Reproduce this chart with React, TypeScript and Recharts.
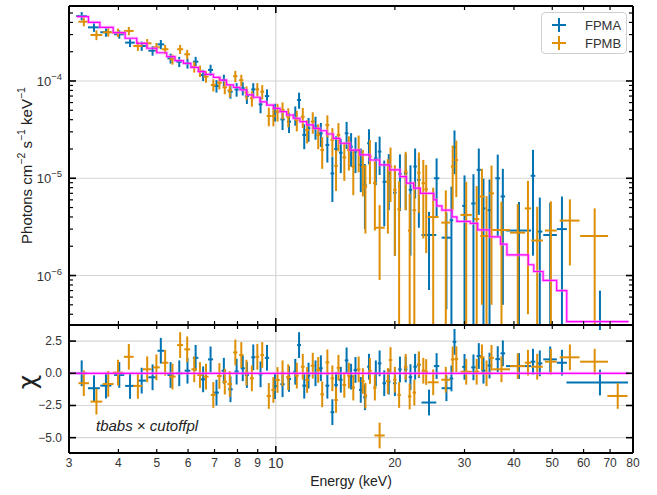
import React from "react";
import {
  CartesianGrid,
  ComposedChart,
  ErrorBar,
  Legend,
  Line,
  Scatter,
  XAxis,
  YAxis,
} from "recharts";

// FPMA (blue): bin centre, half width (keV), flux, 1-sigma, chi
const fpmaE = [3.23, 3.47, 3.72, 4.02, 4.28, 4.58, 4.88, 5.12, 5.42, 5.7,
  5.98, 6.27, 6.55, 6.84, 7.08, 7.39, 7.68, 7.96, 8.25, 8.45,
  8.77, 9.15, 9.5, 9.95, 10.4, 10.8, 11.2, 11.45, 11.8, 12.1,
  12.6, 13.0, 13.5, 13.9, 14.2, 14.6, 15.1, 15.5, 15.9, 16.4,
  16.8, 17.2, 17.9, 18.3, 18.8, 19.3, 20.0, 20.6, 21.3, 21.9,
  22.5, 23.0, 24.4, 25.5, 27.0, 27.8, 28.3, 30.0, 31.6, 32.6,
  33.5, 34.7, 36.4, 37.5, 41.2, 44.7, 46.5, 49.4, 52.9, 66];
const fpmaDE = [0.1, 0.12, 0.12, 0.12, 0.12, 0.12, 0.12, 0.1, 0.1, 0.1,
  0.1, 0.1, 0.1, 0.1, 0.1, 0.1, 0.1, 0.1, 0.1, 0.1,
  0.1, 0.1, 0.12, 0.12, 0.13, 0.13, 0.13, 0.13, 0.13, 0.13,
  0.14, 0.14, 0.15, 0.15, 0.15, 0.15, 0.16, 0.16, 0.17, 0.17,
  0.17, 0.18, 0.18, 0.19, 0.19, 0.2, 0.2, 0.21, 0.22, 0.22,
  0.23, 0.23, 1.05, 0.4, 0.75, 0.3, 0.3, 0.4, 0.4, 0.4,
  0.4, 0.4, 0.5, 0.5, 3.0, 0.6, 0.7, 1.95, 1.55, 11.7];
const fpmaFlux = [4.66e-4, 3.56e-4, 3.17e-4, 3.02e-4, 2.48e-4, 2.29e-4, 2.05e-4, 2.38e-4, 1.71e-4, 1.58e-4,
  1.52e-4, 1.58e-4, 1.15e-4, 1.3e-4, 8.9e-5, 1.02e-4, 7.77e-5, 8.2e-5, 8.4e-5, 7.0e-5,
  8.2e-5, 5.75e-5, 7.0e-5, 4.83e-5, 4.03e-5, 3.82e-5, 4.47e-5, 6.38e-5, 2.79e-5, 3.27e-5,
  3.39e-5, 2.9e-5, 2.2e-5, 1.12e-5, 2.0e-5, 1.83e-5, 2.9e-5, 2.11e-5, 1.88e-5, 1.37e-5,
  8.5e-6, 2.29e-5, 1.6e-5, 1.88e-5, 9.2e-6, 1.12e-5, 7.1e-6, 1.11e-5, 1.12e-5, 7.6e-6,
  1.32e-5, 9.6e-6, 2.61e-6, 1.0e-5, 2.45e-6, 3.7e-6, 2.1e-5, 5.2e-6, 5.5e-6, 1.22e-5,
  4.9e-6, 4.7e-6, 1.0e-5, 6.5e-6, 2.9e-6, 1.06e-5, 2.83e-6, 2.61e-6, 3.0e-6, 2.0e-7];
const fpmaErr = [4.5e-5, 3.6e-5, 3.2e-5, 3.0e-5, 2.5e-5, 2.5e-5, 2.3e-5, 2.6e-5, 2.0e-5, 1.9e-5,
  1.8e-5, 1.9e-5, 1.5e-5, 1.7e-5, 1.3e-5, 1.4e-5, 1.2e-5, 1.3e-5, 1.3e-5, 1.2e-5,
  1.3e-5, 1.1e-5, 1.2e-5, 1.0e-5, 9.0e-6, 9.0e-6, 1.0e-5, 1.2e-5, 8.0e-6, 9.0e-6,
  9.0e-6, 8.0e-6, 7.5e-6, 5.5e-6, 7.0e-6, 7.0e-6, 9.0e-6, 8.0e-6, 7.5e-6, 6.5e-6,
  5.5e-6, 9.0e-6, 7.5e-6, 8.0e-6, 6.0e-6, 6.5e-6, 5.5e-6, 6.5e-6, 6.5e-6, 6.0e-6,
  7.0e-6, 6.5e-6, 1.9e-6, 6.0e-6, 2.0e-6, 4.5e-6, 1.0e-5, 5.5e-6, 5.5e-6, 8.0e-6,
  5.0e-6, 5.0e-6, 7.5e-6, 6.0e-6, 2.8e-6, 9.0e-6, 3.5e-6, 3.0e-6, 3.5e-6, 5.0e-7];
const fpmaChi = [0.0, -1.16, -0.96, -0.13, -0.98, -0.57, -0.31, 1.75, -0.13, 0.0,
  0.2, 1.2, -0.47, 1.08, -1.5, 0.2, -1.24, 0.13, 0.39, -0.13,
  1.24, -0.08, 1.2, -1.0, -0.85, -0.44, 0.12, 2.19, -0.96, -0.18,
  0.0, 0.39, -0.96, -3.02, -0.9, -0.5, 1.0, -0.26, 0.26, -1.29,
  -1.86, 0.51, 0.0, 0.77, -0.77, -0.65, -0.77, 0.3, 0.3, -0.3,
  0.51, 0.64, -2.27, 0.56, -1.16, -0.4, 2.44, 0.5, 0.46, 1.34,
  0.2, 0.6, 1.1, 1.55, 0.56, 0.9, 0.77, 1.08, 0.82, -0.72];

// FPMB (orange)
const fpmbE = [3.27, 3.52, 3.77, 3.99, 4.25, 4.48, 4.73, 4.99, 5.25, 5.48,
  5.73, 5.97, 6.22, 6.43, 6.66, 6.95, 7.2, 7.43, 7.65, 7.9,
  8.18, 8.43, 8.7, 8.98, 9.24, 9.6, 9.86, 10.1, 10.4, 10.75,
  11.3, 11.7, 12.0, 12.4, 12.8, 13.1, 13.5, 13.9, 14.2, 14.4,
  14.9, 15.3, 15.7, 16.2, 16.6, 16.85, 17.3, 17.8, 18.3, 19.2,
  19.5, 20.0, 20.5, 21.3, 21.8, 22.4, 23.0, 23.6, 24.0, 25.0,
  26.9, 28.0, 28.6, 30.3, 32.2, 33.2, 34.1, 35.1, 37.2, 40.9,
  43.4, 45.8, 49.6, 55.4, 64.0, 73.2];
const fpmbDE = [0.1, 0.12, 0.12, 0.12, 0.12, 0.12, 0.12, 0.1, 0.1, 0.1,
  0.1, 0.1, 0.1, 0.1, 0.1, 0.1, 0.1, 0.1, 0.1, 0.1,
  0.1, 0.1, 0.1, 0.1, 0.1, 0.12, 0.12, 0.13, 0.13, 0.13,
  0.13, 0.13, 0.13, 0.14, 0.14, 0.14, 0.15, 0.15, 0.15, 0.15,
  0.16, 0.16, 0.16, 0.17, 0.17, 0.17, 0.18, 0.18, 0.55, 0.2,
  0.2, 0.2, 0.21, 0.22, 0.22, 0.23, 0.23, 0.24, 0.24, 0.8,
  0.7, 0.3, 0.3, 1.0, 0.5, 0.5, 1.2, 0.5, 1.9, 1.8,
  0.8, 1.55, 1.7, 3.2, 5.2, 4.3];
const fpmbFlux = [4.07e-4, 2.97e-4, 3.17e-4, 3.14e-4, 3.27e-4, 2.29e-4, 2.44e-4, 2.22e-4, 2.12e-4, 1.67e-4,
  2.12e-4, 1.88e-4, 1.4e-4, 1.27e-4, 1.11e-4, 9.1e-5, 9.6e-5, 8.6e-5, 8.0e-5, 1.12e-4,
  1.02e-4, 7.6e-5, 6.64e-5, 8.2e-5, 7.77e-5, 4.37e-5, 4.37e-5, 4.83e-5, 5.03e-5, 4.29e-5,
  3.98e-5, 4.29e-5, 3.13e-5, 3.82e-5, 2.79e-5, 1.95e-5, 3.53e-5, 2.48e-5, 1.34e-5, 2.79e-5,
  1.64e-5, 1.95e-5, 1.32e-5, 1.95e-5, 1.3e-5, 8.2e-6, 1.67e-5, 8.9e-6, 3.1e-6, 9.2e-6,
  1.32e-5, 7.6e-6, 4.8e-6, 1.17e-5, 2.9e-6, 4.7e-6, 1.14e-5, 8.9e-6, 7.7e-6, 4.0e-6,
  3.5e-6, 1.32e-5, 1.54e-5, 4.2e-6, 3.8e-6, 6.5e-6, 2.55e-6, 7.0e-6, 2.94e-6, 2.76e-6,
  4.9e-6, 2.29e-6, 2.9e-6, 3.67e-6, 2.55e-6, 1.0e-7];
const fpmbErr = [4.2e-5, 3.4e-5, 3.2e-5, 3.1e-5, 3.2e-5, 2.5e-5, 2.6e-5, 2.4e-5, 2.3e-5, 2.0e-5,
  2.3e-5, 2.1e-5, 1.8e-5, 1.7e-5, 1.5e-5, 1.3e-5, 1.4e-5, 1.3e-5, 1.2e-5, 1.5e-5,
  1.4e-5, 1.2e-5, 1.2e-5, 1.3e-5, 1.3e-5, 9.5e-6, 9.5e-6, 1.0e-5, 1.0e-5, 9.5e-6,
  9.5e-6, 1.0e-5, 8.5e-6, 9.5e-6, 8.0e-6, 7.0e-6, 9.0e-6, 8.0e-6, 6.0e-6, 9.0e-6,
  7.0e-6, 7.5e-6, 6.5e-6, 8.0e-6, 6.5e-6, 5.5e-6, 8.0e-6, 6.0e-6, 2.2e-6, 6.5e-6,
  7.5e-6, 6.0e-6, 4.5e-6, 7.0e-6, 4.0e-6, 4.5e-6, 7.0e-6, 6.5e-6, 6.0e-6, 4.0e-6,
  4.0e-6, 8.5e-6, 9.0e-6, 5.0e-6, 4.5e-6, 6.0e-6, 4.0e-6, 6.5e-6, 2.8e-6, 2.7e-6,
  4.5e-6, 2.8e-6, 2.9e-6, 2.4e-6, 2.35e-6, 1.5e-7];
const fpmbChi = [-0.77, -2.2, -0.83, 0.05, 1.28, -0.98, 0.31, 0.46, 0.82, -0.26,
  2.19, 1.86, 0.31, -0.13, -0.26, -1.68, -0.21, -0.65, -0.83, 1.62,
  1.42, 0.05, -0.39, 1.28, 1.42, -1.76, -1.29, -0.52, 0.0, -0.3,
  -0.18, 0.51, -0.52, 0.59, 0.26, -1.63, 0.85, -0.39, -2.07, 0.43,
  -0.9, -0.18, -1.11, 0.3, -0.6, -1.73, 0.18, -1.11, -4.83, -0.6,
  1.03, -0.5, -1.68, 0.5, -1.8, -1.5, 0.7, 0.2, 0.1, -0.7,
  -0.5, 1.08, 1.1, 0.12, 0.12, 1.24, 0.0, 1.2, 0.31, 0.56,
  0.82, 0.51, 0.9, 1.24, 0.9, -1.76];

// tbabs x cutoffpl model, step values at bin left edges
const modelE = [3.14, 3.36, 3.59, 3.88, 4.16, 4.45, 4.72, 5.0, 5.3, 5.56,
  5.84, 6.1, 6.37, 6.62, 6.95, 7.22, 7.51, 7.81, 8.12, 8.44,
  8.77, 9.12, 9.48, 9.86, 10.25, 10.65, 11.07, 11.51, 11.97, 12.44,
  12.93, 13.45, 13.97, 14.53, 15.4, 16.3, 17.3, 18.3, 19.4, 20.6,
  21.4, 22.3, 23.2, 25.1, 25.5, 26.3, 27.9, 28.7, 31.0, 32.4,
  34.7, 37.0, 38.4, 43.5, 44.9, 47.4, 51.3, 54.4, 78];
const modelFlux = [4.58e-4, 4.01e-4, 3.56e-4, 3.14e-4, 2.75e-4, 2.44e-4, 2.17e-4, 1.95e-4, 1.78e-4, 1.62e-4,
  1.52e-4, 1.38e-4, 1.25e-4, 1.17e-4, 1.09e-4, 1.02e-4, 9.1e-5, 8.6e-5, 8.1e-5, 7.2e-5,
  6.8e-5, 6.1e-5, 5.66e-5, 5.24e-5, 4.84e-5, 4.47e-5, 4.14e-5, 3.82e-5, 3.53e-5, 3.26e-5,
  3.08e-5, 2.85e-5, 2.57e-5, 2.29e-5, 1.95e-5, 1.74e-5, 1.54e-5, 1.37e-5, 1.22e-5, 1.04e-5,
  8.9e-6, 7.9e-6, 7.0e-6, 6.0e-6, 5.2e-6, 4.7e-6, 4.0e-6, 3.6e-6, 3.43e-6, 2.94e-6,
  2.5e-6, 2.1e-6, 1.63e-6, 1.29e-6, 1.1e-6, 8.9e-7, 7.0e-7, 3.36e-7, 3.36e-7];
const chiModelE = [3.0, 78];
const chiModelV = [0, 0];

const xTicks = [3, 4, 5, 6, 7, 8, 9, 10, 20, 30, 40, 50, 60, 70, 80];
const xMajors = [10];
const fluxTicks = [4e-7, 5e-7, 6e-7, 7e-7, 8e-7, 9e-7, 1e-6,
  2e-6, 3e-6, 4e-6, 5e-6, 6e-6, 7e-6, 8e-6, 9e-6, 1e-5,
  2e-5, 3e-5, 4e-5, 5e-5, 6e-5, 7e-5, 8e-5, 9e-5, 1e-4,
  2e-4, 3e-4, 4e-4, 5e-4];
const fluxMajors = [1e-6, 1e-5, 1e-4];
const chiTicks = [-5, -2.5, 0, 2.5];

const W = 657;
const FONT = '"Liberation Sans", Arial, Helvetica, sans-serif';
const BLUE = "#0173b2";
const ORANGE = "#de8f05";
const MAGENTA = "#ff00ff";
const GRID = "#d6d6d6";
const TEXT = "#333";
const Y_MIN = 3.1e-7;
const Y_MAX = 5.9e-4;
const CHI_MIN = -6.19;
const CHI_MAX = 3.75;
const AXIS = { stroke: "#000", strokeWidth: 2 };

function spectrum(E: number[], dE: number[], F: number[], S: number[]) {
  return E.map((e, i) => ({
    e,
    f: F[i],
    ex: dE[i],
    ey: [Math.max(0, Math.min(S[i], F[i] - Y_MIN)), S[i]],
  }));
}

function residuals(E: number[], dE: number[], C: number[]) {
  return E.map((e, i) => ({ e, c: C[i], ex: dE[i], ey: 1 }));
}

const fpmaTop = spectrum(fpmaE, fpmaDE, fpmaFlux, fpmaErr);
const fpmbTop = spectrum(fpmbE, fpmbDE, fpmbFlux, fpmbErr);
const fpmaRes = residuals(fpmaE, fpmaDE, fpmaChi);
const fpmbRes = residuals(fpmbE, fpmbDE, fpmbChi);
const modelTop = modelE.map((e, i) => ({ e, f: modelFlux[i] }));
const modelRes = chiModelE.map((e, i) => ({ e, c: chiModelV[i] }));

type Side = "top" | "bottom" | "left" | "right";
type LabelFn = (v: number, x: number, y: number) => React.ReactNode;

// inward ticks, matplotlib style
function tickMark(side: Side, majors: number[], label?: LabelFn) {
  return (props: any) => {
    const { x, y, payload } = props;
    const v = payload.value as number;
    const major = majors.includes(v);
    const len = major ? 7 : 4;
    let x2 = x;
    let y2 = y;
    if (side === "bottom") y2 = y - len;
    if (side === "top") y2 = y + len;
    if (side === "left") x2 = x + len;
    if (side === "right") x2 = x - len;
    return (
      <g>
        <line x1={x} y1={y} x2={x2} y2={y2} stroke="#000" strokeWidth={major ? 1.6 : 1.2} />
        {label ? label(v, x, y) : null}
      </g>
    );
  };
}

const energyLabel: LabelFn = (v, x, y) => (
  <text x={x} y={y + 10} textAnchor="middle" dominantBaseline="central"
    fontSize={v === 10 ? 14 : 12} fill={TEXT} fontFamily={FONT}>
    {v}
  </text>
);

const fluxLabel: LabelFn = (v, x, y) => {
  if (!fluxMajors.includes(v)) return null;
  const exp = Math.round(Math.log10(v));
  return (
    <text x={x - 7} y={y + 5} textAnchor="end" fontSize={13} fill={TEXT} fontFamily={FONT}>
      10<tspan dy={-6} fontSize={9.5}>{"\u2212" + Math.abs(exp)}</tspan>
    </text>
  );
};

const chiLabel: LabelFn = (v, x, y) => (
  <text x={x - 7} y={y} textAnchor="end" dominantBaseline="central" fontSize={12}
    fill={TEXT} fontFamily={FONT}>
    {v.toFixed(1).replace("-", "\u2212")}
  </text>
);

function fluxTitle(props: any) {
  const vb = props.viewBox;
  const cx = 26;
  const cy = vb.y + vb.height / 2;
  return (
    <text x={cx} y={cy} transform={`rotate(-90, ${cx}, ${cy})`} textAnchor="middle"
      dominantBaseline="central" fontSize={15} fill="#222" fontFamily={FONT}>
      Photons cm<tspan dy={-5} fontSize={10.5}>−2</tspan>
      <tspan dy={5}> s</tspan><tspan dy={-5} fontSize={10.5}>−1</tspan>
      <tspan dy={5}> keV</tspan><tspan dy={-5} fontSize={10.5}>−1</tspan>
    </text>
  );
}

function chiTitle(props: any) {
  const vb = props.viewBox;
  const cx = 27;
  const cy = vb.y + vb.height / 2 - 7;
  return (
    <text x={cx} y={cy} transform={`rotate(-90, ${cx}, ${cy})`} textAnchor="middle"
      dominantBaseline="central" fontSize={25} fill="#222" fontFamily="DejaVu Sans">
      χ
    </text>
  );
}

function energyTitle(props: any) {
  const vb = props.viewBox;
  return (
    <text x={vb.x + vb.width / 2} y={453 - 320 + 28} textAnchor="middle" dominantBaseline="central"
      fontSize={14} fill="#222" fontFamily={FONT}>
      Energy (keV)
    </text>
  );
}

const legendItems = [
  { name: "FPMA", color: BLUE },
  { name: "FPMB", color: ORANGE },
];

function LegendBox() {
  return (
    <div
      style={{
        boxSizing: "border-box",
        width: 86,
        height: 42,
        border: "1px solid #cfcfcf",
        borderRadius: 4,
        background: "rgba(255,255,255,0.85)",
        padding: "3px 0 0 9px",
        fontFamily: FONT,
        fontSize: 13,
        color: TEXT,
      }}
    >
      {legendItems.map((it) => (
        <div key={it.name} style={{ display: "flex", alignItems: "center", height: 18 }}>
          <svg width={16} height={16} style={{ display: "block" }}>
            <line x1={1} y1={8} x2={15} y2={8} stroke={it.color} strokeWidth={2} />
            <line x1={8} y1={1} x2={8} y2={15} stroke={it.color} strokeWidth={2} />
          </svg>
          <span style={{ marginLeft: 18 }}>{it.name}</span>
        </div>
      ))}
    </div>
  );
}

const noMark = () => <g />;

// axes are 1px thick so recharts renders them; margins absorb that pixel
function SpectrumPanel() {
  return (
    <ComposedChart width={W} height={330} margin={{ top: 5, right: 23, bottom: 4, left: 68 }}>
      <CartesianGrid xAxisId="b" yAxisId="l" horizontalValues={fluxMajors} verticalValues={[10]}
        stroke={GRID} strokeWidth={1.2} />
      <XAxis xAxisId="b" dataKey="e" type="number" scale="log" domain={[3, 80]} allowDataOverflow
        ticks={xTicks} interval={0} height={1} tickSize={0} tickMargin={0} tickLine={false}
        axisLine={AXIS} tick={tickMark("bottom", xMajors)} />
      <XAxis xAxisId="t" orientation="top" dataKey="e" type="number" scale="log" domain={[3, 80]}
        allowDataOverflow ticks={xTicks} interval={0} height={1} tickSize={0} tickMargin={0}
        tickLine={false} axisLine={AXIS} tick={tickMark("top", xMajors)} />
      <YAxis yAxisId="l" dataKey="f" type="number" scale="log" domain={[Y_MIN, Y_MAX]}
        allowDataOverflow ticks={fluxTicks} interval={0} width={1} tickSize={0} tickMargin={0}
        tickLine={false} axisLine={AXIS} tick={tickMark("left", fluxMajors, fluxLabel)}
        label={fluxTitle} />
      <YAxis yAxisId="r" orientation="right" dataKey="f" type="number" scale="log"
        domain={[Y_MIN, Y_MAX]} allowDataOverflow ticks={fluxTicks} interval={0} width={1}
        tickSize={0} tickMargin={0} tickLine={false} axisLine={AXIS}
        tick={tickMark("right", fluxMajors)} />
      <Legend layout="vertical" align="center" verticalAlign="middle" content={() => <LegendBox />}
        wrapperStyle={{ left: 541, top: 12, width: 86, height: 42 }} />
      <Scatter xAxisId="b" yAxisId="l" name="FPMA" data={fpmaTop} dataKey="f" shape={noMark}
        isAnimationActive={false}>
        <ErrorBar dataKey="ex" direction="x" width={0} stroke={BLUE} strokeWidth={2} />
        <ErrorBar dataKey="ey" direction="y" width={0} stroke={BLUE} strokeWidth={2} />
      </Scatter>
      <Scatter xAxisId="b" yAxisId="l" name="FPMB" data={fpmbTop} dataKey="f" shape={noMark}
        isAnimationActive={false}>
        <ErrorBar dataKey="ex" direction="x" width={0} stroke={ORANGE} strokeWidth={2} />
        <ErrorBar dataKey="ey" direction="y" width={0} stroke={ORANGE} strokeWidth={2} />
      </Scatter>
      <Line xAxisId="b" yAxisId="l" data={modelTop} dataKey="f" type="stepAfter" stroke="#ff7aff"
        strokeOpacity={0.55} strokeWidth={3} dot={false} activeDot={false} legendType="none"
        isAnimationActive={false} />
      <Line xAxisId="b" yAxisId="l" data={modelTop} dataKey="f" type="stepAfter" stroke={MAGENTA}
        strokeWidth={1.2} dot={false} activeDot={false} legendType="none" isAnimationActive={false} />
      <Line xAxisId="t" yAxisId="r" data={modelTop} dataKey="f" stroke="none" dot={false}
        activeDot={false} legendType="none" isAnimationActive={false} />
    </ComposedChart>
  );
}

function ResidualPanel() {
  return (
    <ComposedChart width={W} height={175} margin={{ top: 4, right: 23, bottom: 41, left: 68 }}>
      <CartesianGrid xAxisId="b" yAxisId="l" horizontalValues={chiTicks} verticalValues={[10]}
        stroke={GRID} strokeWidth={1.2} />
      <XAxis xAxisId="b" dataKey="e" type="number" scale="log" domain={[3, 80]} allowDataOverflow
        ticks={xTicks} interval={0} height={1} tickSize={0} tickMargin={0} tickLine={false}
        axisLine={AXIS} tick={tickMark("bottom", xMajors, energyLabel)} label={energyTitle} />
      <XAxis xAxisId="t" orientation="top" dataKey="e" type="number" scale="log" domain={[3, 80]}
        allowDataOverflow ticks={xTicks} interval={0} height={1} tickSize={0} tickMargin={0}
        tickLine={false} axisLine={AXIS} tick={tickMark("top", xMajors)} />
      <YAxis yAxisId="l" dataKey="c" type="number" domain={[CHI_MIN, CHI_MAX]} allowDataOverflow
        ticks={chiTicks} interval={0} width={1} tickSize={0} tickMargin={0} tickLine={false}
        axisLine={AXIS} tick={tickMark("left", chiTicks, chiLabel)} label={chiTitle} />
      <YAxis yAxisId="r" orientation="right" dataKey="c" type="number" domain={[CHI_MIN, CHI_MAX]}
        allowDataOverflow ticks={chiTicks} interval={0} width={1} tickSize={0} tickMargin={0}
        tickLine={false} axisLine={AXIS} tick={tickMark("right", chiTicks)} />
      <Scatter xAxisId="b" yAxisId="l" name="FPMA" data={fpmaRes} dataKey="c" shape={noMark}
        isAnimationActive={false}>
        <ErrorBar dataKey="ex" direction="x" width={0} stroke={BLUE} strokeWidth={2} />
        <ErrorBar dataKey="ey" direction="y" width={0} stroke={BLUE} strokeWidth={2} />
      </Scatter>
      <Scatter xAxisId="b" yAxisId="l" name="FPMB" data={fpmbRes} dataKey="c" shape={noMark}
        isAnimationActive={false}>
        <ErrorBar dataKey="ex" direction="x" width={0} stroke={ORANGE} strokeWidth={2} />
        <ErrorBar dataKey="ey" direction="y" width={0} stroke={ORANGE} strokeWidth={2} />
      </Scatter>
      <Line xAxisId="b" yAxisId="l" data={modelRes} dataKey="c" stroke="#ff7aff" strokeOpacity={0.55}
        strokeWidth={3} dot={false} activeDot={false} isAnimationActive={false} />
      <Line xAxisId="b" yAxisId="l" data={modelRes} dataKey="c" stroke={MAGENTA} strokeWidth={1.2}
        dot={false} activeDot={false} isAnimationActive={false} />
      <Line xAxisId="t" yAxisId="r" data={modelRes} dataKey="c" stroke="none" dot={false}
        activeDot={false} isAnimationActive={false} />
    </ComposedChart>
  );
}

export default function App() {
  return (
    <div style={{ position: "absolute", left: 0, top: 0, width: W, height: 495, background: "#fff",
      fontFamily: FONT }}>
      <div style={{ position: "absolute", left: 0, top: 0 }}>
        <SpectrumPanel />
      </div>
      <div style={{ position: "absolute", left: 0, top: 320 }}>
        <ResidualPanel />
      </div>
      <div style={{ position: "absolute", left: 96, top: 417, fontSize: 15, fontStyle: "italic",
        color: "#222", fontFamily: FONT, whiteSpace: "nowrap" }}>
        tbabs × cutoffpl
      </div>
    </div>
  );
}
